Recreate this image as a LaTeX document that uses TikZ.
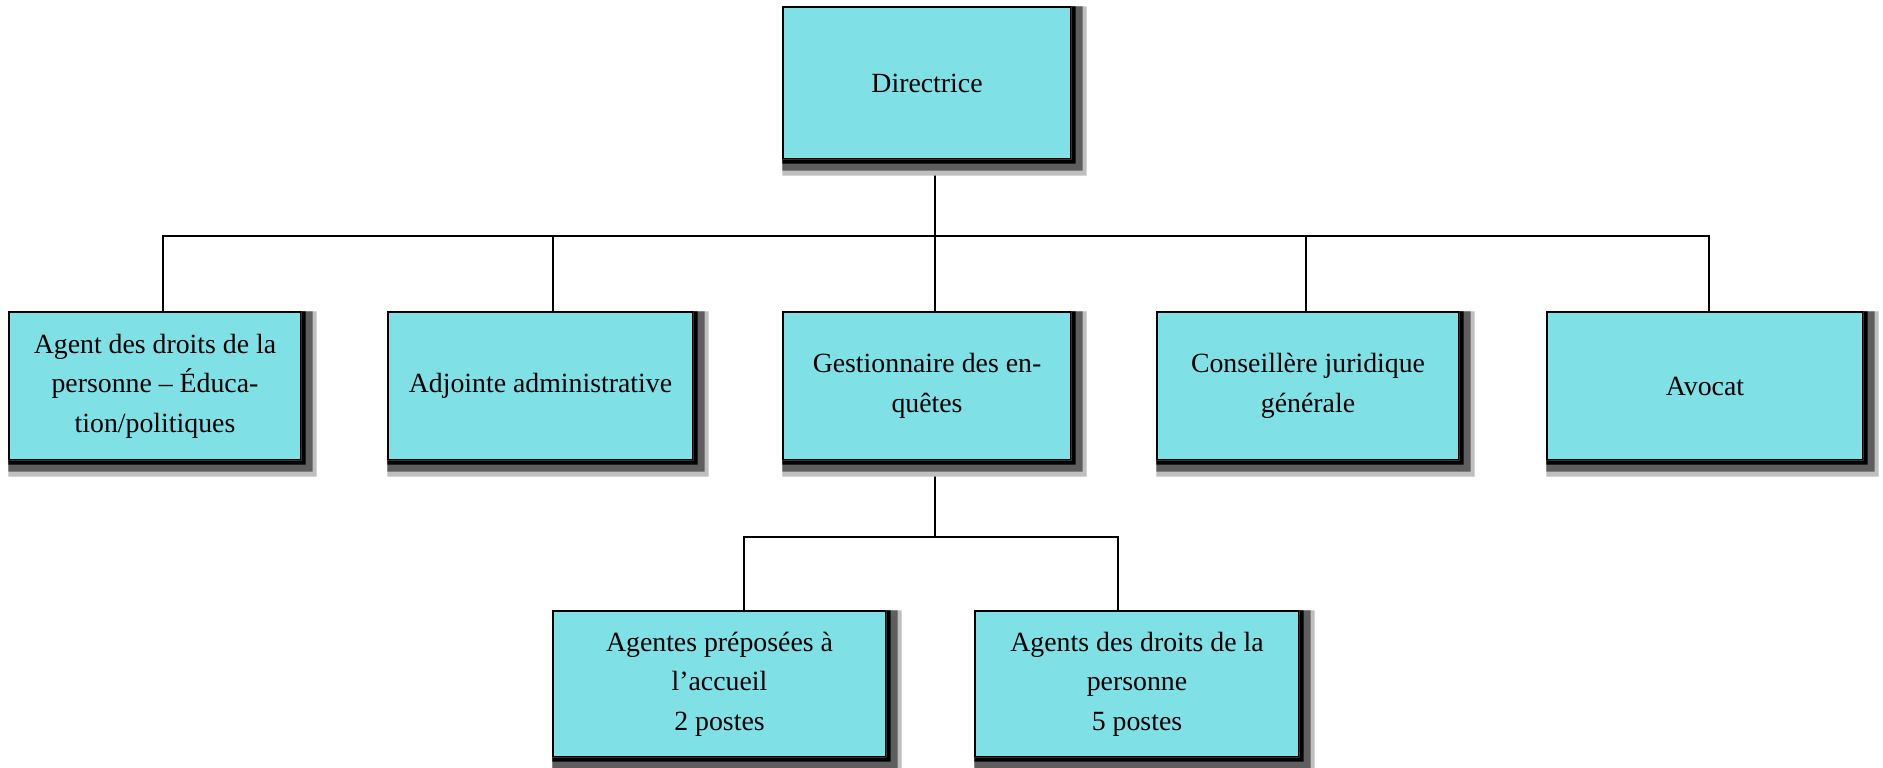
\documentclass[tikz,border=0pt]{standalone}
\usepackage{fontspec}
\setmainfont{Liberation Serif}
\definecolor{Cyan}{RGB}{127,224,230}
\colorlet{Dark}{black!63}
\colorlet{Light}{black!25}

\begin{document}
\begin{tikzpicture}[
  x=0.5pt,
  y=-0.5pt,
  line width=1pt,
  every node/.style={draw, line width=0.6pt, fill=Cyan, inner sep=0mm,
    align=center, font=\fontsize{13.9}{19.8}\selectfont},
  wd/.style={minimum width=#1*0.5pt},
  ht/.style={minimum height=#1*0.5pt}
  ]
\useasboundingbox (0,0) rectangle (1883,767);
\draw
  (927,83) node[wd=288, ht=152] (dir) {Directrice}
  (155,386) node[wd=292, ht=148] (b1)
    {Agent des droits de la\\personne -- Éduca-\\tion/politiques}
  (540.5,386) node[wd=305, ht=148] (b2) {Adjointe administrative}
  (927,386) node[wd=288, ht=148] (b3) {Gestionnaire des en-\\quêtes}
  (1308,386) node[wd=302, ht=148] (b4) {Conseillère juridique\\générale}
  (1705,386) node[wd=316, ht=148] (b5) {Avocat}
  (719.5,684) node[wd=333, ht=146] (b6)
    {Agentes préposées à\\l’accueil\\2 postes}
  (1137,684) node[wd=324, ht=146] (b7)
    {Agents des droits de la\\personne\\5 postes}
  ;
% liens
\draw ([xshift=4pt]dir.south) -- ++(0,76) coordinate (bus);
\foreach \n/\d in {b1/8, b2/12, b3/8, b4/-2, b5/4}
  \draw (bus) -| ([shift={(\d,0)}]\n.north);
\draw ([xshift=4pt]b3.south) -- ++(0,76) coordinate (bus2);
\foreach \n/\d in {b6/24, b7/-19}
  \draw (bus2) -| ([shift={(\d,0)}]\n.north);
% ombres
\foreach \n in {dir,b1,b2,b3,b4,b5,b6,b7}{
  \fill[Light] (\n.south west) rectangle ([shift={(15,16)}]\n.south east)
    (\n.north east) rectangle ([shift={(15,16)}]\n.south east);
  \fill[Dark] (\n.south west) rectangle ([shift={(11,11)}]\n.south east)
    (\n.north east) rectangle ([shift={(11,11)}]\n.south east);
  \fill (\n.south west) rectangle ([shift={(4,4)}]\n.south east)
    (\n.north east) rectangle ([shift={(4,4)}]\n.south east);}
\end{tikzpicture}
\end{document}
